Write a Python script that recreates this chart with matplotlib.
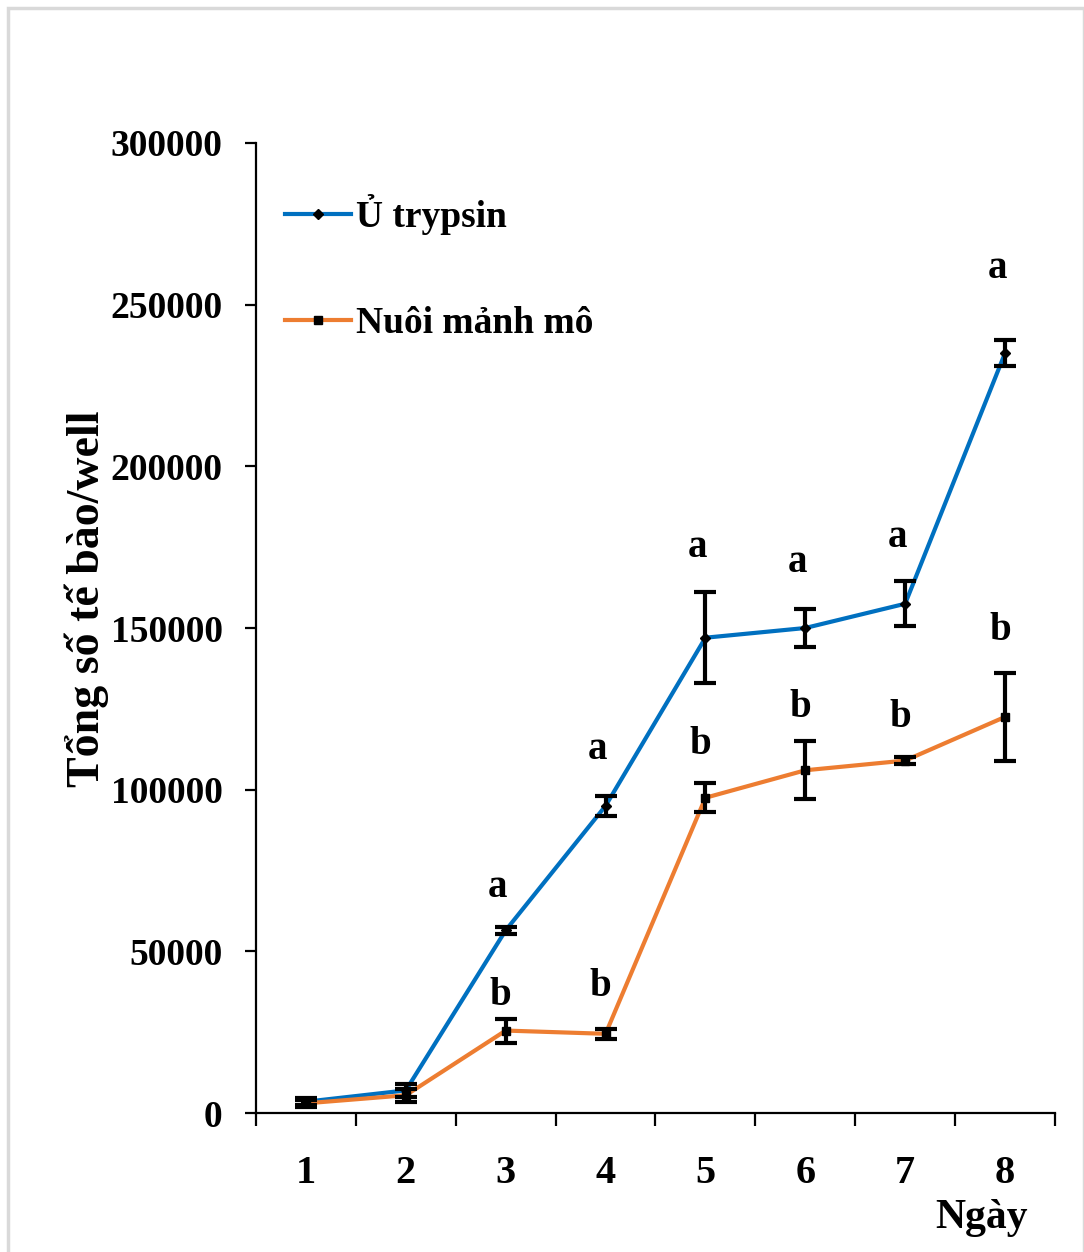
import matplotlib.pyplot as plt
from matplotlib.patches import Rectangle
from matplotlib.ticker import FixedLocator

days = [1, 2, 3, 4, 5, 6, 7, 8]

trypsin = [3500, 7000, 56500, 95000, 147000, 150000, 157500, 235000]
trypsin_err = [1000, 2000, 1000, 3000, 14000, 6000, 7000, 4000]

explant = [3000, 5500, 25500, 24500, 97500, 106000, 109000, 122500]
explant_err = [1000, 2000, 3700, 1500, 4500, 9000, 1000, 13500]

# significance letters, only from day 3 on
letter_days = [3, 4, 5, 6, 7, 8]
trypsin_letters = ["a", "a", "a", "a", "a", "a"]
trypsin_letter_y = [69600, 112300, 175000, 170400, 178100, 261300]
explant_letters = ["b", "b", "b", "b", "b", "b"]
explant_letter_y = [36500, 39000, 114100, 125300, 122200, 149100]

y_ticks = [0, 50000, 100000, 150000, 200000, 250000, 300000]


def main():
    plt.rcParams['font.family'] = ['Liberation Serif', 'DejaVu Serif']
    plt.rcParams['font.weight'] = 'bold'

    fig = plt.figure(figsize=(10.84, 12.52), dpi=100)
    ax = fig.add_axes([0.2362, 0.1110, 0.7370, 0.7748])

    # thin grey frame around the whole figure
    fig.patches.append(Rectangle((8 / 1084, -0.01), 1075.5 / 1084, 1.01 - 8 / 1252,
                                 transform=fig.transFigure, fill=False,
                                 edgecolor='#d9d9d9', linewidth=2.5))

    ax.plot(days, trypsin, color='#0070c0', linewidth=3, marker='D',
            markersize=5, markerfacecolor='black', markeredgecolor='black',
            label='Ủ trypsin', zorder=3)
    ax.plot(days, explant, color='#ed7d31', linewidth=3, marker='s',
            markersize=6, markerfacecolor='black', markeredgecolor='black',
            label='Nuôi mảnh mô', zorder=3)
    ax.errorbar(days, trypsin, yerr=trypsin_err, fmt='none', ecolor='black',
                elinewidth=3, capsize=8, capthick=3, zorder=4)
    ax.errorbar(days, explant, yerr=explant_err, fmt='none', ecolor='black',
                elinewidth=3, capsize=8, capthick=3, zorder=4)

    for d, s, y in zip(letter_days, trypsin_letters, trypsin_letter_y):
        ax.text(d - 0.08, y, s, ha='center', va='center', fontsize=28,
                fontweight='bold')
    for d, s, y in zip(letter_days, explant_letters, explant_letter_y):
        ax.text(d - 0.05, y, s, ha='center', va='center', fontsize=28,
                fontweight='bold')

    ax.set_xlim(0.5, 8.5)
    ax.set_ylim(0, 300000)
    ax.set_yticks(y_ticks)
    ax.set_yticklabels([str(v) for v in y_ticks])
    ax.set_xticks(days)
    ax.set_xticklabels([str(d) for d in days])
    ax.xaxis.set_minor_locator(FixedLocator([d + 0.5 for d in [0] + days]))

    for side in ['top', 'right']:
        ax.spines[side].set_visible(False)
    for side in ['left', 'bottom']:
        ax.spines[side].set_linewidth(1.6)

    ax.tick_params(axis='y', which='major', direction='out', length=8,
                   width=1.6, pad=16, labelsize=27)
    ax.tick_params(axis='x', which='major', length=0, pad=30, labelsize=29)
    ax.tick_params(axis='x', which='minor', direction='out', length=9,
                   width=1.6)
    for lbl in ax.get_xticklabels() + ax.get_yticklabels():
        lbl.set_fontweight('bold')

    ax.set_ylabel('Tổng số tế bào/well', fontsize=33, fontweight='bold',
                  labelpad=1)
    ax.yaxis.label.set_y(0.53)
    ax.text(0.966, -0.108, 'Ngày', transform=ax.transAxes, ha='right',
            va='center', fontsize=30, fontweight='bold')

    ax.legend(loc='upper left', bbox_to_anchor=(0.018, 0.963), frameon=False,
              fontsize=27, handlelength=1.75, handletextpad=0.12,
              labelspacing=1.9, borderaxespad=0)

    fig.savefig('out.png', dpi=100)


if __name__ == "__main__":
    main()
